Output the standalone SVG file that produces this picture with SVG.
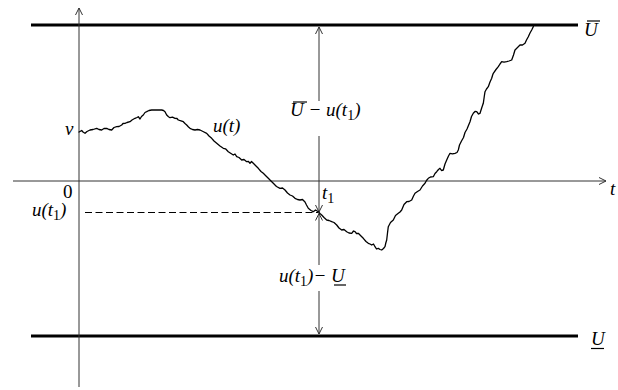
<svg xmlns="http://www.w3.org/2000/svg" width="618" height="390" viewBox="0 0 618 390">
<defs>
<marker id="arr" markerUnits="userSpaceOnUse" markerWidth="12" markerHeight="12" viewBox="-10 -6 12 12" refX="0" refY="0" orient="auto">
<path d="M-7,-3.5 L0,0 L-7,3.5" fill="none" stroke="#333" stroke-width="1"/>
</marker>
</defs>
<style>
.thin{stroke:#333;stroke-width:1;fill:none}
.bound{stroke:#000;stroke-width:3;fill:none}
.curve{stroke:#000;stroke-width:1.3;fill:none;stroke-linejoin:round;stroke-linecap:round}
.dash{stroke:#000;stroke-width:1.2;stroke-dasharray:7 3.5;fill:none}
.bar{stroke:#000;stroke-width:1.2}
</style>
<g id="bounds">
<line class="bound" x1="31" y1="25" x2="578" y2="25"/>
<line class="bound" x1="31" y1="336" x2="578" y2="336"/>
</g>
<g id="axes">
<line class="thin" x1="79" y1="387" x2="79" y2="8" marker-end="url(#arr)"/>
<line class="thin" x1="13" y1="181" x2="606" y2="181" marker-end="url(#arr)"/>
</g>
<g id="connectors">
<line class="thin" x1="319" y1="101" x2="319" y2="27" marker-end="url(#arr)"/>
<line class="thin" x1="319" y1="136" x2="319" y2="212" marker-end="url(#arr)"/>
<line class="thin" x1="319" y1="265" x2="319" y2="213.5" marker-end="url(#arr)"/>
<line class="thin" x1="319" y1="291" x2="319" y2="334" marker-end="url(#arr)"/>
<line class="dash" x1="85" y1="212.5" x2="318" y2="212.5"/>
</g>
<g id="path-u">
<polyline class="curve" points="79,132 81.7,130.5 83,132 85,133.3 87,131.5 90,130 93,129.5 96.7,128.3 99,129.5 101.7,130 104,128.5 106.7,128.3 109,129.5 111.7,130 114,127.5 116.7,126.7 119,126.5 121.7,125 123,123.5 125,123.3 127,122.5 130,121.7 132,120 135,118.3 137,117.5 138.3,116.7 140,119 141.5,116.5 143.3,115 145,112.5 146.7,111.7 149,110.5 151.7,110 156,109.8 161.7,110 163.5,110.5 165,111.7 166.7,115 168.5,116.8 170,117.7 172.5,117.2 175,118.3 177,118.5 178.3,120 181,120.8 183.3,121.7 185,123.5 186.7,125 188.5,127 190,128.3 192.5,129.5 195,130 197.5,129.5 200,130 203,131.5 206.7,133.3 209,136 211.7,138.3 214,141 216.7,143.3 220,146 223.3,148.3 225.5,148.8 228.3,151.7 231,153.5 233.3,155 235,154 236.7,156.7 239,157.5 241.7,160 244,159.5 246.7,161.7 248.5,161.5 250,163.3 251.5,161.5 253.3,163.3 256,166 258.3,168.3 261,171.5 263.3,173.3 266,176 268.3,178.3 271,181 273.3,183.3 276.5,186.5 280,188.3 282.5,188 285,190 287.5,193 290,195 292.5,196 295,198.3 297.5,199.5 300,200 302.5,199.5 305,202 306.5,205 308.3,208.3 311,210.5 313.3,211.7 315.5,210 318.3,211.7 320,213.5 321.7,215 324,217.5 326.7,220 329,220.5 331.7,221.7 334,222.5 336.7,225 339,228 341.7,230 344,229.5 346.7,231.7 349,233 351.7,233.3 353.5,231 355,231.7 356.5,233.5 358.3,233.3 361,236 363.3,238.3 366,241.5 368.3,243.3 370,244 371.7,245 373.5,244 375,246.7 376.5,249 378.3,248.3 380,249.5 381.7,250 383.5,248.5 385,246.7 385.8,243 386.7,240 387.5,233 388.3,226.7 390.5,222.5 393.3,220 395.5,215.5 398.3,213.3 400,212 401.7,210 404,204.5 406.7,201.7 409,201.5 411.7,200 413.5,196 415,193.3 417.5,191.5 420,190 422.5,186 425,183.3 426.5,180.5 428.3,178.3 430.5,177 433.3,176.7 435,173.5 436.7,171.7 438.5,169.5 440,168.3 441.5,170.5 443.3,170 445,164 446.7,160 448.5,156 450,153.3 452.5,153.8 455,153.3 457,152.5 458.3,150 459.5,145 461.5,141 463.5,137.5 465,132.5 467,129 470,121.7 471.5,116.5 473.3,113.3 475,111.5 476.7,111.7 478.5,114 480,113.3 482,107 483.3,103.3 484.2,97 485,91.7 486.5,89 488.3,86.7 490,82 491.7,78.3 492.5,75.5 493.3,73.3 496,69.5 498.3,66.7 500,64 501.7,61.7 504,62.2 506.7,61.7 509,61 511.7,60 513.5,55 515,50 517.5,47.5 520,45 522.5,45 525,43.3 526.5,40 528.3,36.7 530,33 531.7,30 533.3,26.7 533.5,25"/>
</g>
<g id="labels" font-family="'Liberation Serif', 'DejaVu Serif', serif" font-size="19" font-style="italic" fill="#000">
<text x="290" y="116">U − u(t<tspan dy="4" font-size="14" font-style="normal">1</tspan><tspan dy="-4">)</tspan></text>
<line class="bar" x1="293" y1="102" x2="307" y2="102"/>
<text x="279" y="282">u(t<tspan dy="4" font-size="14" font-style="normal">1</tspan><tspan dy="-4">)− U</tspan></text>
<line class="bar" x1="334" y1="285" x2="346" y2="285"/>
<text x="584" y="36">U</text>
<line class="bar" x1="587" y1="21" x2="600" y2="21"/>
<text x="591" y="345">U</text>
<line class="bar" x1="591" y1="348.5" x2="604" y2="348.5"/>
<text x="65" y="135">v</text>
<text x="213" y="132">u(t)</text>
<text x="63" y="198" font-style="normal">0</text>
<text x="32" y="216">u(t<tspan dy="4" font-size="14" font-style="normal">1</tspan><tspan dy="-4">)</tspan></text>
<text x="322" y="199">t<tspan dy="4" font-size="14" font-style="normal">1</tspan></text>
<text x="610" y="195">t</text>
</g>
</svg>
